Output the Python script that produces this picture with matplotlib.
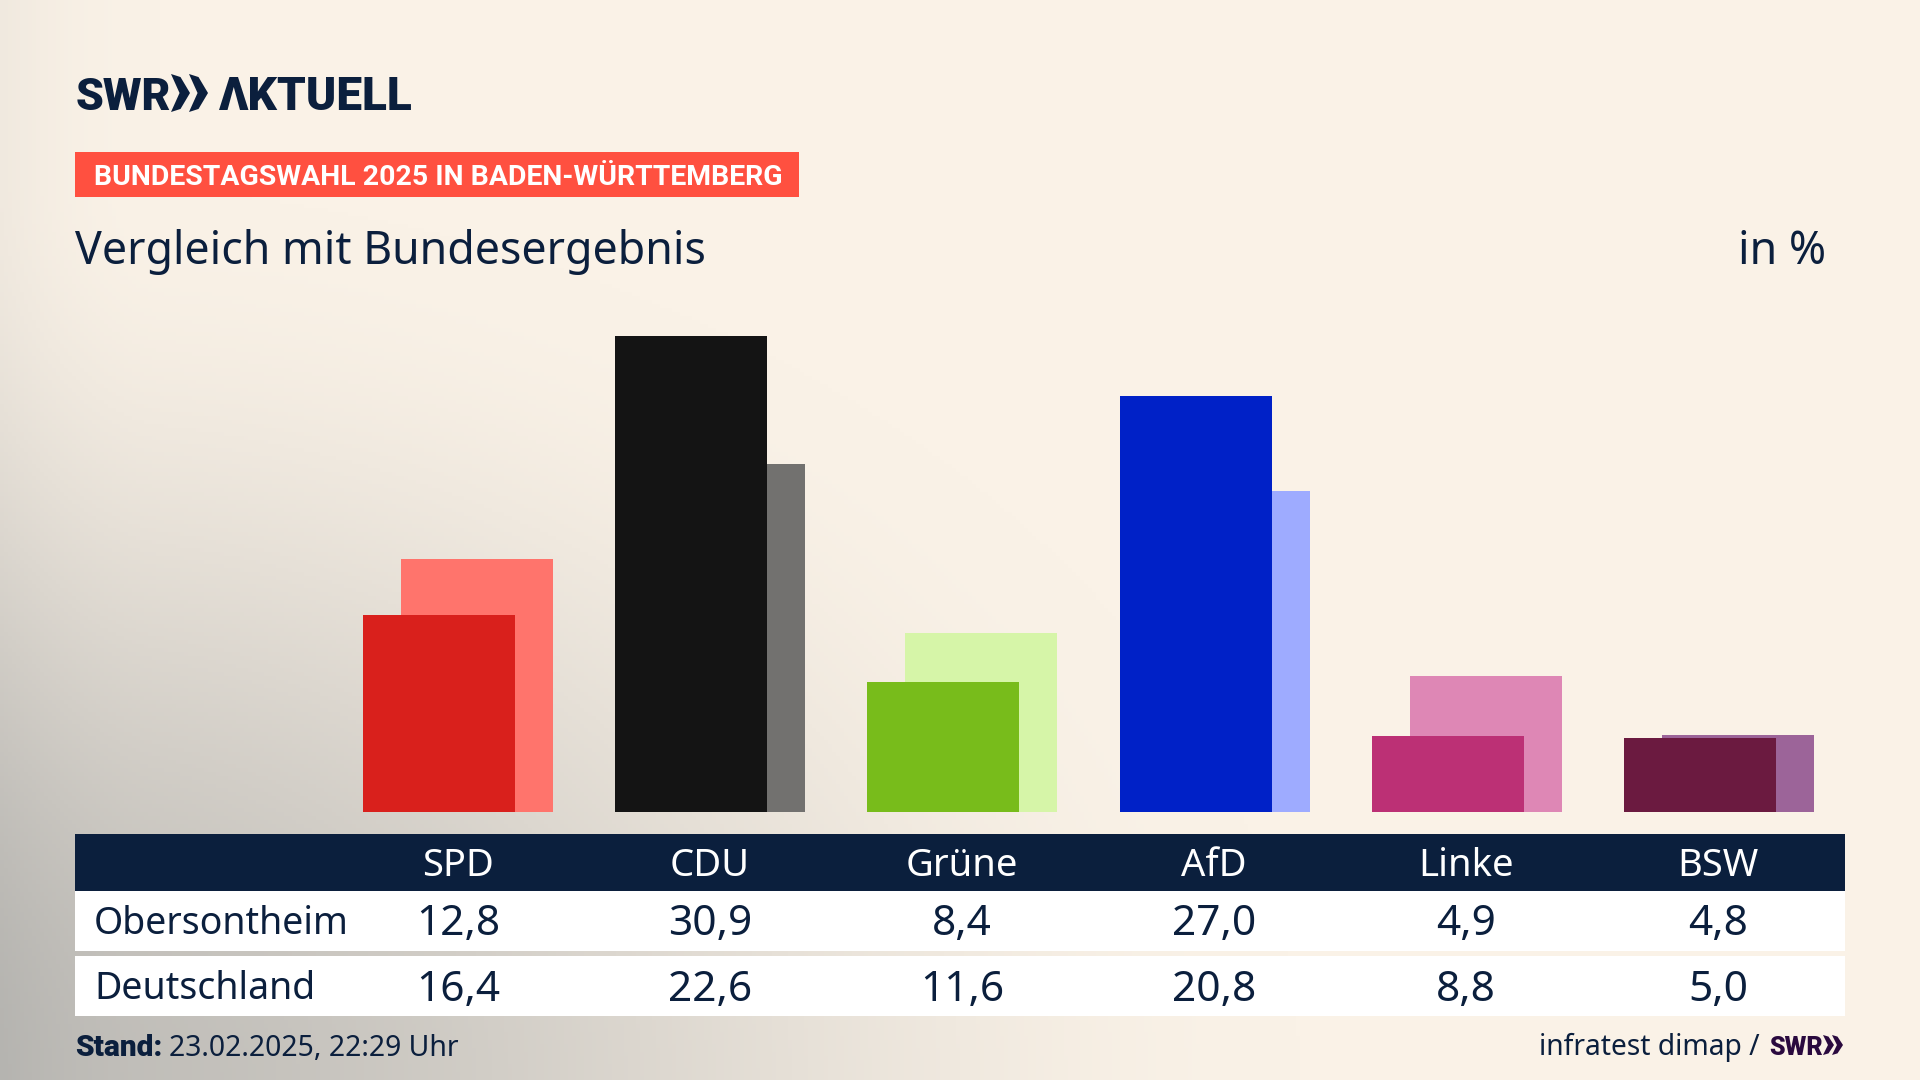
import numpy as np
import matplotlib
matplotlib.use('Agg')
import matplotlib.pyplot as plt
from matplotlib.patches import Polygon, Rectangle

parties = ['SPD', 'CDU', 'Grüne', 'AfD', 'Linke', 'BSW']
obersontheim = [12.8, 30.9, 8.4, 27.0, 4.9, 4.8]
deutschland = [16.4, 22.6, 11.6, 20.8, 8.8, 5.0]
dark_colors = ['#d9201c', '#141414', '#78bc1b', '#0021c7', '#bc3075', '#6b1a40']
light_colors = ['#ff746c', '#72716f', '#d6f5a8', '#9eabff', '#de87b5', '#9c6499']
row_names = ['Obersontheim', 'Deutschland']

W, H = 1920, 1080
NAVY = '#0b1f3d'
CREAM = '#faf2e7'
PURPLE = '#2a0a3f'
BOLD = 'Roboto'
plt.rcParams['font.family'] = ['Noto Sans', 'DejaVu Sans']


def chevrons(ax, xs, top, bottom, w, color):
    # the two arrow heads of the SWR logo
    mid = (top + bottom) / 2
    for x0 in xs:
        ax.add_patch(Polygon([(x0, top), (x0 + w * 0.5, top + (bottom - top) * 0.08), (x0 + w, mid),
                              (x0 + w * 0.5, bottom - (bottom - top) * 0.08), (x0, bottom), (x0 + w * 0.45, mid)],
                             color=color, lw=0, zorder=3))


fig = plt.figure(figsize=(W / 100, H / 100), dpi=100)

# page axes in pixels, y going down
page = fig.add_axes([0, 0, 1, 1])
page.set_xlim(0, W)
page.set_ylim(H, 0)
page.axis('off')

# grey shade coming in from the lower left corner
yy, xx = np.mgrid[0:H:270j, 0:W:480j]
d = np.clip(1 - np.sqrt((xx / 1300) ** 2 + ((yy - 1080) / 900) ** 2), 0, 1)
shade = d * d * (3 - 2 * d) * 0.72
edge = np.clip(1 - xx / 160, 0, 1) ** 2 * 0.12
shade = np.clip(shade + edge, 0, 1)
cream = np.array(matplotlib.colors.to_rgb(CREAM))
grey = np.array([0.66, 0.66, 0.65])
bg = cream[None, None, :] * (1 - shade[..., None]) + grey[None, None, :] * shade[..., None]
page.imshow(bg, extent=[0, W, H, 0], aspect='auto', zorder=0)

# logo
page.text(76, 110, 'SWR', fontsize=32, fontweight='black', color=NAVY, va='baseline', family=BOLD)
chevrons(page, [171, 189], 74, 112, 19, NAVY)
page.text(219, 110, 'ΛKTUELL', fontsize=33, fontweight='black', color=NAVY, va='baseline', family=BOLD)

# red tag
page.add_patch(Rectangle((75, 152), 724, 45, color='#ff5040', lw=0, zorder=2))
page.text(94, 185, 'BUNDESTAGSWAHL 2025 IN BADEN-WÜRTTEMBERG', fontsize=20.4, fontweight='bold',
          color='white', va='baseline', family=BOLD)

page.text(75, 264, 'Vergleich mit Bundesergebnis', fontsize=32.2, color=NAVY, va='baseline')
page.text(1826, 264, 'in %', fontsize=32.2, color=NAVY, va='baseline', ha='right')

# bars, scale 15.42 px per percent from the baseline at y=812
x = np.arange(len(parties))
ax = fig.add_axes([363 / W, 1 - 812 / H, (1815 - 363) / W, 500 / H])
ax.patch.set_alpha(0)
ax.axis('off')
ax.set_xlim(0, 1452)
ax.set_ylim(0, 500 / 15.42)
ax.bar(x * 252.2 + 38, deutschland, width=152, align='edge', color=light_colors)
ax.bar(x * 252.2, obersontheim, width=152, align='edge', color=dark_colors)

# table
page.add_patch(Rectangle((75, 834), 1770, 57, color=NAVY, lw=0, zorder=2))
page.add_patch(Rectangle((75, 891), 1770, 60, color='white', lw=0, zorder=2))
page.add_patch(Rectangle((75, 956), 1770, 60, color='white', lw=0, zorder=2))
col_x = [458, 710, 962, 1214, 1466, 1718]
for cx, p, a, b in zip(col_x, parties, obersontheim, deutschland):
    page.text(cx, 876, p, fontsize=27.5, color='white', ha='center', va='baseline', zorder=3)
    page.text(cx, 935, f'{a:.1f}'.replace('.', ','), fontsize=30.5, color=NAVY, ha='center', va='baseline', zorder=3)
    page.text(cx, 1001, f'{b:.1f}'.replace('.', ','), fontsize=30.5, color=NAVY, ha='center', va='baseline', zorder=3)
page.text(94, 934, row_names[0], fontsize=27, color=NAVY, va='baseline', zorder=3)
page.text(94, 999, row_names[1], fontsize=27, color=NAVY, va='baseline', zorder=3)

# footer
page.text(75, 1056, 'Stand:', fontsize=21.5, fontweight='black', color=NAVY, va='baseline', family=BOLD)
page.text(169, 1056, '23.02.2025, 22:29 Uhr', fontsize=20.4, color=NAVY, va='baseline')
page.text(1760, 1055, 'infratest dimap /', fontsize=20.3, color=NAVY, va='baseline', ha='right')
page.text(1769, 1055, 'SWR', fontsize=18, fontweight='black', color=PURPLE, va='baseline', family=BOLD)
chevrons(page, [1823, 1832], 1035, 1055, 11, PURPLE)

fig.savefig('out.png', dpi=100)
